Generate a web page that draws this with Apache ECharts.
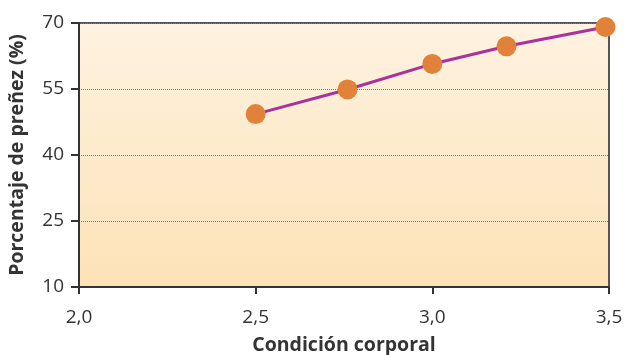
<!DOCTYPE html>
<html>
<head>
<meta charset="utf-8">
<script src="https://cdn.jsdelivr.net/npm/echarts@6/dist/echarts.min.js"></script>
<style>
  html, body { margin: 0; padding: 0; background: #fff; }
  #chart { width: 625px; height: 355px; }
</style>
</head>
<body>
<div id="chart"></div>
<script>
// Body condition score vs. pregnancy rate
const condicion = [2.5, 2.76, 3.0, 3.21, 3.49];
const prenez = [49.3, 54.9, 60.7, 64.7, 69.1];
const yTicks = [10, 25, 40, 55, 70];
const xTicks = [2.0, 2.5, 3.0, 3.5];

const FONT = '"Open Sans", sans-serif';
const chart = echarts.init(document.getElementById('chart'), null, { renderer: 'canvas' });

chart.setOption({
  animation: false,
  backgroundColor: '#ffffff',
  grid: {
    left: 79, right: 16, top: 23, bottom: 68,
    containLabel: false,
    outerBoundsMode: 'none',
    show: true,
    borderColor: '#555555',
    borderWidth: 2,
    backgroundColor: new echarts.graphic.LinearGradient(0, 0, 0, 1, [
      { offset: 0, color: '#fef2e1' },
      { offset: 1, color: '#fde2b6' }
    ])
  },
  xAxis: {
    type: 'value',
    min: xTicks[0],
    max: xTicks[xTicks.length - 1],
    interval: 0.5,
    name: 'Condición corporal',
    nameLocation: 'middle',
    nameGap: 48,
    nameTextStyle: { fontFamily: FONT, fontWeight: 'bold', fontSize: 19.5, color: '#333333' },
    axisLine: { show: true, onZero: false, lineStyle: { color: '#333333', width: 2 } },
    axisTick: { show: true, length: 7, lineStyle: { color: '#333333', width: 2 } },
    axisLabel: {
      margin: 21,
      fontFamily: FONT, fontSize: 19, color: '#333333',
      formatter: v => v.toFixed(1).replace('.', ',')
    },
    splitLine: { show: false }
  },
  yAxis: {
    type: 'value',
    min: yTicks[0],
    max: yTicks[yTicks.length - 1],
    interval: 15,
    name: 'Porcentaje de preñez (%)',
    nameLocation: 'middle',
    nameGap: 52,
    nameTextStyle: { fontFamily: FONT, fontWeight: 'bold', fontSize: 19.5, color: '#333333' },
    axisLine: { show: true, lineStyle: { color: '#333333', width: 2 } },
    axisTick: { show: true, length: 8, lineStyle: { color: '#333333', width: 2 } },
    axisLabel: { margin: 15, fontFamily: FONT, fontSize: 19, color: '#333333' },
    splitLine: { show: true, lineStyle: { color: '#777777', width: 1, type: [1, 1] } }
  },
  series: [{
    type: 'line',
    data: condicion.map((x, i) => [x, prenez[i]]),
    symbol: 'circle',
    symbolSize: 20,
    lineStyle: { color: '#a8329e', width: 3 },
    itemStyle: { color: '#e0823a' },
    z: 5
  }]
});
</script>
</body>
</html>
